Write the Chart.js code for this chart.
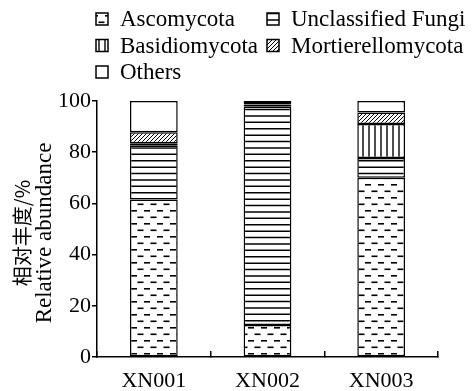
<!DOCTYPE html>
<html>
<head>
<meta charset="utf-8">
<script src="https://cdn.jsdelivr.net/npm/chart.js@4/dist/chart.umd.min.js"></script>
<style>
  html, body { margin: 0; padding: 0; background: #fff; }
  #wrap { width: 476px; height: 391px; }
</style>
</head>
<body>
<div id="wrap"><canvas id="chart" width="476" height="391"></canvas></div>
<script>
// values (% relative abundance)
const samples = ['XN001', 'XN002', 'XN003'];
const ascomycota = [61.5, 12.5, 70.0];
const unclassifiedFungi = [21.0, 85.3, 7.7];
const basidiomycota = [1.0, 0.8, 13.3];
const mortierellomycota = [4.3, 0.6, 4.5];
const others = [12.2, 0.8, 4.5];
const yTicks = [0, 20, 40, 60, 80, 100];
const yTitle = ['相对丰度/%', 'Relative abundance'];

const canvas = document.getElementById('chart');
const ctx = canvas.getContext('2d');

function makePattern(w, h, draw) {
  const c = document.createElement('canvas');
  c.width = w;
  c.height = h;
  const g = c.getContext('2d');
  g.fillStyle = '#fff';
  g.fillRect(0, 0, w, h);
  g.fillStyle = '#000';
  g.strokeStyle = '#000';
  draw(g, w, h);
  return ctx.createPattern(c, 'repeat');
}

// short dashes in staggered rows
const dashFill = makePattern(13, 13, g => {
  g.fillRect(1, 2, 6, 1.6);
  g.fillRect(7.5, 8.5, 6, 1.6);
  g.fillRect(-5.5, 8.5, 6, 1.6);
});
// horizontal lines
const hLineFill = makePattern(4, 32, g => {
  g.lineWidth = 1.5;
  g.beginPath();
  for (let i = 0; i < 5; i++) {
    const y = 0.75 + i * 6.4;
    g.moveTo(0, y);
    g.lineTo(4, y);
  }
  g.stroke();
});
// vertical lines
const vLineFill = makePattern(6, 4, g => {
  g.lineWidth = 1.4;
  g.beginPath();
  g.moveTo(3, 0);
  g.lineTo(3, 4);
  g.stroke();
});
// diagonal hatching
const hatchFill = makePattern(4, 4, g => {
  g.lineWidth = 1;
  g.beginPath();
  g.moveTo(0, 4); g.lineTo(4, 0);
  g.moveTo(-1, 1); g.lineTo(1, -1);
  g.moveTo(3, 5); g.lineTo(5, 3);
  g.stroke();
});

function series(label, data, fill) {
  return {
    label: label,
    data: data,
    backgroundColor: fill,
    borderColor: '#000',
    borderWidth: 1.5,
    borderSkipped: false,
    barPercentage: 0.42,
    categoryPercentage: 1
  };
}

// legend in two columns + two-font axis title
const extras = {
  id: 'extras',
  afterDraw(chart) {
    const c = chart.ctx;
    c.save();
    c.textBaseline = 'middle';
    c.textAlign = 'left';
    chart.data.datasets.forEach((ds, i) => {
      const x = (i % 2) ? 267 : 96;
      const y = 19 + Math.floor(i / 2) * 26.5;
      c.fillStyle = ds.backgroundColor;
      c.fillRect(x, y - 6, 12, 12);
      c.lineWidth = 1.5;
      c.strokeStyle = '#000';
      c.strokeRect(x, y - 6, 12, 12);
      c.fillStyle = '#000';
      c.font = '23px "Liberation Serif"';
      c.fillText(ds.label, x + 24, y + 1);
    });

    const area = chart.chartArea;
    const midY = (area.top + area.bottom) / 2 + 4;
    c.textAlign = 'center';
    c.fillStyle = '#000';
    c.translate(22, midY);
    c.rotate(-Math.PI / 2);
    c.font = '20px "Noto Sans CJK SC"';
    c.fillText(yTitle[0], 0, 0);
    c.font = '23px "Liberation Serif"';
    c.fillText(yTitle[1], 0, 23);
    c.restore();
  }
};

new Chart(ctx, {
  type: 'bar',
  data: {
    labels: samples,
    datasets: [
      series('Ascomycota', ascomycota, dashFill),
      series('Unclassified Fungi', unclassifiedFungi, hLineFill),
      series('Basidiomycota', basidiomycota, vLineFill),
      series('Mortierellomycota', mortierellomycota, hatchFill),
      series('Others', others, '#fff')
    ]
  },
  options: {
    responsive: false,
    animation: false,
    layout: { padding: { top: 101, right: 38, bottom: 0, left: 0 } },
    plugins: {
      legend: { display: false },
      tooltip: { enabled: false }
    },
    scales: {
      x: {
        stacked: true,
        afterFit: s => { s.height = 34; },
        border: { color: '#000', width: 1.5 },
        grid: { offset: true, drawOnChartArea: false, tickLength: -6, color: '#000', lineWidth: 1.5 },
        ticks: {
          color: '#000',
          padding: 19,
          font: { family: 'Liberation Serif', size: 22, lineHeight: 1 }
        }
      },
      y: {
        stacked: true,
        min: 0,
        max: 100,
        afterBuildTicks: s => { s.ticks = yTicks.map(v => ({ value: v })); },
        afterFit: s => { s.width = 97; },
        border: { color: '#000', width: 1.5 },
        grid: { drawOnChartArea: false, tickLength: 5, color: '#000', lineWidth: 1.5 },
        ticks: {
          color: '#000',
          padding: 1,
          font: { family: 'Liberation Serif', size: 22 }
        }
      }
    }
  },
  plugins: [extras]
});
</script>
</body>
</html>
